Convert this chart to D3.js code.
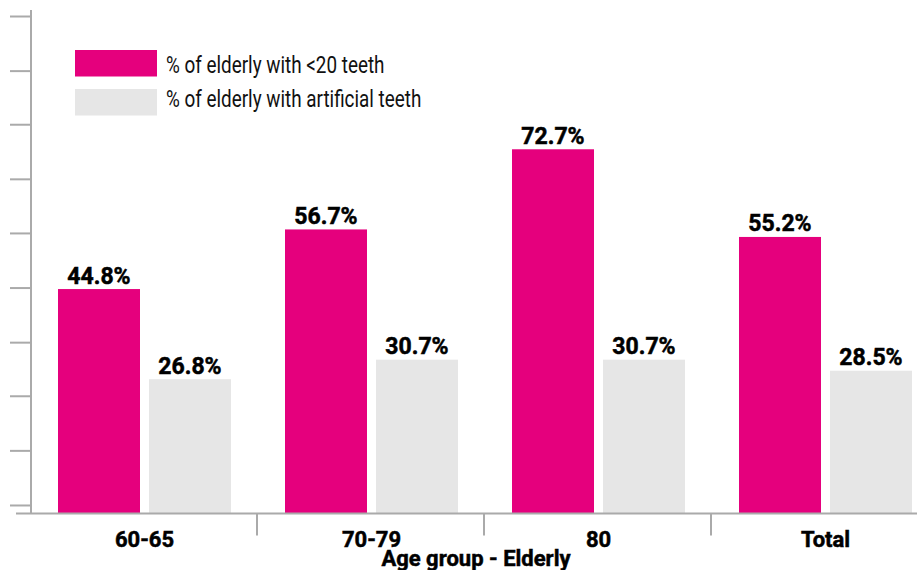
<!DOCTYPE html>
<html>
<head>
<meta charset="utf-8">
<script src="https://cdn.jsdelivr.net/npm/d3@7"></script>
<style>
  body { margin: 0; background: #fff; }
  text { font-family: Roboto, "Liberation Sans", sans-serif; fill: #000; }
  .heavy { stroke: #000; stroke-width: 0.5px; font-weight: bold; }
</style>
</head>
<body>
<div class="chart"></div>
<script>
// Chart data
const categories = ["60-65", "70-79", "80", "Total"];
const seriesKeys = ["lessThan20", "artificial"];
const seriesLabels = ["% of elderly with <20 teeth", "% of elderly with artificial teeth"];
const lessThan20 = [44.8, 56.7, 72.7, 55.2];
const artificial = [26.8, 30.7, 30.7, 28.5];
const yTickValues = [1.7, 12.6, 23.5, 34.2, 45.1, 56.0, 66.8, 77.7, 88.4, 99.3];
const xTitle = "Age group - Elderly";

const colors = { lessThan20: "#E5007D", artificial: "#E6E6E6" };
const axisColor = "#AAAAAA";

const width = 917, height = 570;

const svg = d3.select(".chart")
  .append("svg")
  .attr("width", width)
  .attr("height", height);

// build rows from the arrays
const rows = categories.map(function (c, i) {
  return { cat: c, lessThan20: lessThan20[i], artificial: artificial[i] };
});

// Scales
const x = d3.scaleBand()
  .domain(categories)
  .range([31, 939])
  .padding(0);

const xInner = d3.scaleBand()
  .domain(seriesKeys)
  .range([0, x.bandwidth()])
  .paddingInner(9 / 91)
  .paddingOuter(0.2967);

const y = d3.scaleLinear()
  .domain([0, 100])
  .range([513.5, 12.5]);

// Y axis: ticks only, no labels
const yAxis = svg.append("g")
  .attr("transform", "translate(31,0)")
  .call(d3.axisLeft(y).tickValues(yTickValues).tickSize(21).tickSizeOuter(0).tickFormat(""));
yAxis.select(".domain").attr("stroke", axisColor).attr("stroke-width", 2)
  .attr("d", "M0," + y(0) + "V10");
yAxis.selectAll(".tick line").attr("stroke", axisColor).attr("stroke-width", 2);

// Bars
const groups = svg.selectAll(".group")
  .data(rows)
  .enter()
  .append("g")
  .attr("class", "group")
  .attr("transform", function (d) { return "translate(" + x(d.cat) + ",0)"; });

groups.selectAll("rect")
  .data(function (d) { return seriesKeys.map(function (k) { return { key: k, value: d[k] }; }); })
  .enter()
  .append("rect")
  .attr("x", function (d) { return xInner(d.key); })
  .attr("y", function (d) { return y(d.value); })
  .attr("width", xInner.bandwidth())
  .attr("height", function (d) { return y(0) - y(d.value); })
  .attr("fill", function (d) { return colors[d.key]; });

// Value labels
groups.selectAll(".value")
  .data(function (d) { return seriesKeys.map(function (k) { return { key: k, value: d[k] }; }); })
  .enter()
  .append("text")
  .attr("class", "value heavy")
  .attr("x", function (d) { return xInner(d.key) + xInner.bandwidth() / 2; })
  .attr("y", function (d) { return y(d.value) - 5.5; })
  .attr("text-anchor", "middle")
  .style("font-size", "23px")
  .text(function (d) { return d.value.toFixed(1) + "%"; });

// X axis baseline and separators
const xAxis = svg.append("g");
xAxis.append("line")
  .attr("x1", 16).attr("x2", width)
  .attr("y1", y(0)).attr("y2", y(0))
  .attr("stroke", axisColor).attr("stroke-width", 2);

xAxis.selectAll(".sep")
  .data(categories.slice(1))
  .enter()
  .append("line")
  .attr("class", "sep")
  .attr("x1", function (d) { return x(d) - 1; })
  .attr("x2", function (d) { return x(d) - 1; })
  .attr("y1", y(0)).attr("y2", y(0) + 22)
  .attr("stroke", axisColor).attr("stroke-width", 2);

xAxis.selectAll(".cat")
  .data(categories)
  .enter()
  .append("text")
  .attr("class", "cat heavy")
  .attr("x", function (d) { return x(d) + x.bandwidth() / 2; })
  .attr("y", 547)
  .attr("text-anchor", "middle")
  .style("font-size", "22px")
  .text(function (d) { return d; });

// X axis title
svg.append("text")
  .attr("class", "heavy")
  .attr("x", 476)
  .attr("y", 566)
  .attr("text-anchor", "middle")
  .style("font-size", "22px")
  .text(xTitle);

// Legend
const legendRows = [
  { key: "lessThan20", label: seriesLabels[0], rectY: 50, textY: 73.3 },
  { key: "artificial", label: seriesLabels[1], rectY: 89, textY: 107.3 }
];
const legend = svg.append("g").attr("class", "legend");
legend.selectAll("rect")
  .data(legendRows)
  .enter()
  .append("rect")
  .attr("x", 75)
  .attr("y", function (d) { return d.rectY; })
  .attr("width", 82)
  .attr("height", 26.5)
  .attr("fill", function (d) { return colors[d.key]; });

legend.selectAll("text")
  .data(legendRows)
  .enter()
  .append("text")
  .attr("transform", function (d) { return "translate(166," + d.textY + ") scale(0.81,1)"; })
  .style("font-size", "23.3px")
  .style("fill", "#111")
  .text(function (d) { return d.label; });
</script>
</body>
</html>
